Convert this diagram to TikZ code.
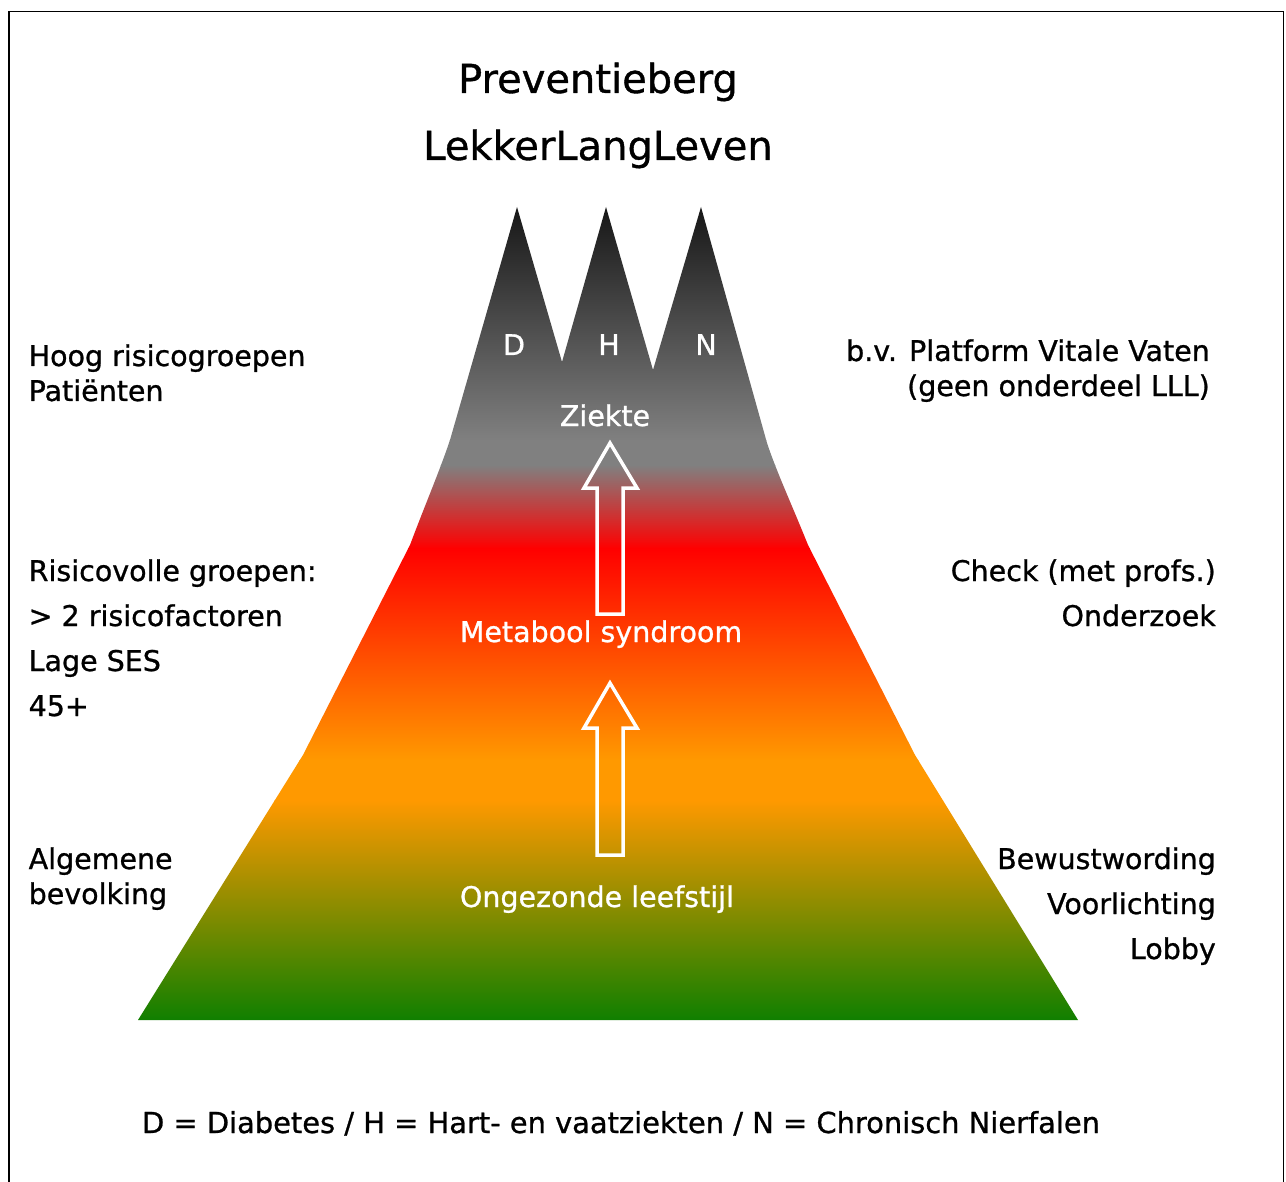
\documentclass[tikz,border=0pt]{standalone}
\usepackage{fontspec}
\setmainfont{DejaVu Sans}[FakeBold=0.9]
\definecolor{cA}{HTML}{141414}
\definecolor{cB}{HTML}{808080}
\definecolor{cC}{HTML}{FF0000}
\definecolor{cD}{HTML}{FF9900}
\definecolor{cE}{HTML}{0F7F00}
\tikzset{
  txt/.style={inner sep=0pt, font=\fontsize{28.5}{34}\selectfont, text=black},
  wtxt/.style={inner sep=0pt, font=\fontsize{28.5}{34}\selectfont, text=white},
  ttl/.style={inner sep=0pt, font=\fontsize{40}{46}\selectfont, text=black},
  uparrow/.style={draw=white, line width=3.5pt, line join=miter},
}
\begin{document}
\begin{tikzpicture}[x=1pt,y=-1pt]
\useasboundingbox (0,0) rectangle (1286,1182);
\fill[white] (0,0) rectangle (1286,1182);
% frame
\draw[line width=1.7pt, black] (9,1200) -- (9,11.5) -- (1283.5,11.5) -- (1283.5,1200);
% mountain
\begin{scope}
\clip (138,1020) -- (303,755) -- (410,545)
  .. controls (425,505) and (440,470) .. (450,440)
  -- (517,207) -- (562,362) -- (606,207) -- (653,370) -- (701,207)
  -- (767,443)
  .. controls (777,473) and (792,505) .. (808,545)
  -- (915,755) -- (1078,1020) -- cycle;
\shade[top color=cA, bottom color=cB] (100,200) rectangle (1100,440.5);
\fill[cB] (100,440) rectangle (1100,465.5);
\shade[top color=cB, bottom color=cC] (100,465) rectangle (1100,548.5);
\shade[top color=cC, bottom color=cD] (100,548) rectangle (1100,760.5);
\fill[cD] (100,760) rectangle (1100,800.5);
\shade[top color=cD, bottom color=cE] (100,800) rectangle (1100,1021);
\end{scope}
% arrows
\draw[uparrow] (610,443) -- (637,488) -- (623,488) -- (623,614) -- (597,614) -- (597,488) -- (584,488) -- cycle;
\draw[uparrow] (610,683) -- (637,728) -- (623,728) -- (623,855) -- (597,855) -- (597,728) -- (584,728) -- cycle;
% title
\node[ttl, anchor=base] (t1) at (598,93) {Preventieberg};
\node[ttl, anchor=base] (t2) at (598,160) {LekkerLangLeven};
% mountain labels
\node[wtxt, anchor=base] (d) at (514,355) {D};
\node[wtxt, anchor=base] (h) at (609,355) {H};
\node[wtxt, anchor=base] (n) at (706,355) {N};
\node[wtxt, anchor=base] (zk) at (605,426) {Ziekte};
\node[wtxt, anchor=base] (ms) at (601,642) {Metabool syndroom};
\node[wtxt, anchor=base] (ol) at (597,907) {Ongezonde leefstijl};
% left texts
\node[txt, anchor=base west] (l1) at (28.5,366) {Hoog risicogroepen};
\node[txt, anchor=base west] (l2) at (28.5,401) {Patiënten};
\node[txt, anchor=base west] (l3) at (28.5,581) {Risicovolle groepen:};
\node[txt, anchor=base west] (l4) at (28.5,626) {> 2 risicofactoren};
\node[txt, anchor=base west] (l5) at (28.5,671) {Lage SES};
\node[txt, anchor=base west] (l6) at (28.5,716) {45+};
\node[txt, anchor=base west] (l7) at (28.5,869) {Algemene};
\node[txt, anchor=base west] (l8) at (28.5,904) {bevolking};
% right texts
\node[txt, anchor=base east] (r1) at (1210,361) {b.v. Platform Vitale Vaten};
\node[txt, anchor=base east] (r2) at (1210,396) {(geen onderdeel LLL)};
\node[txt, anchor=base east] (r3) at (1216,581) {Check (met profs.)};
\node[txt, anchor=base east] (r4) at (1216,626) {Onderzoek};
\node[txt, anchor=base east] (r5) at (1216,869) {Bewustwording};
\node[txt, anchor=base east] (r6) at (1216,914) {Voorlichting};
\node[txt, anchor=base east] (r7) at (1216,959) {Lobby};
% legend
\node[txt, anchor=base, font=\fontsize{28.9}{34}\selectfont] (lg) at (621,1133) {D = Diabetes / H = Hart- en vaatziekten / N = Chronisch Nierfalen};
\end{tikzpicture}
\end{document}
